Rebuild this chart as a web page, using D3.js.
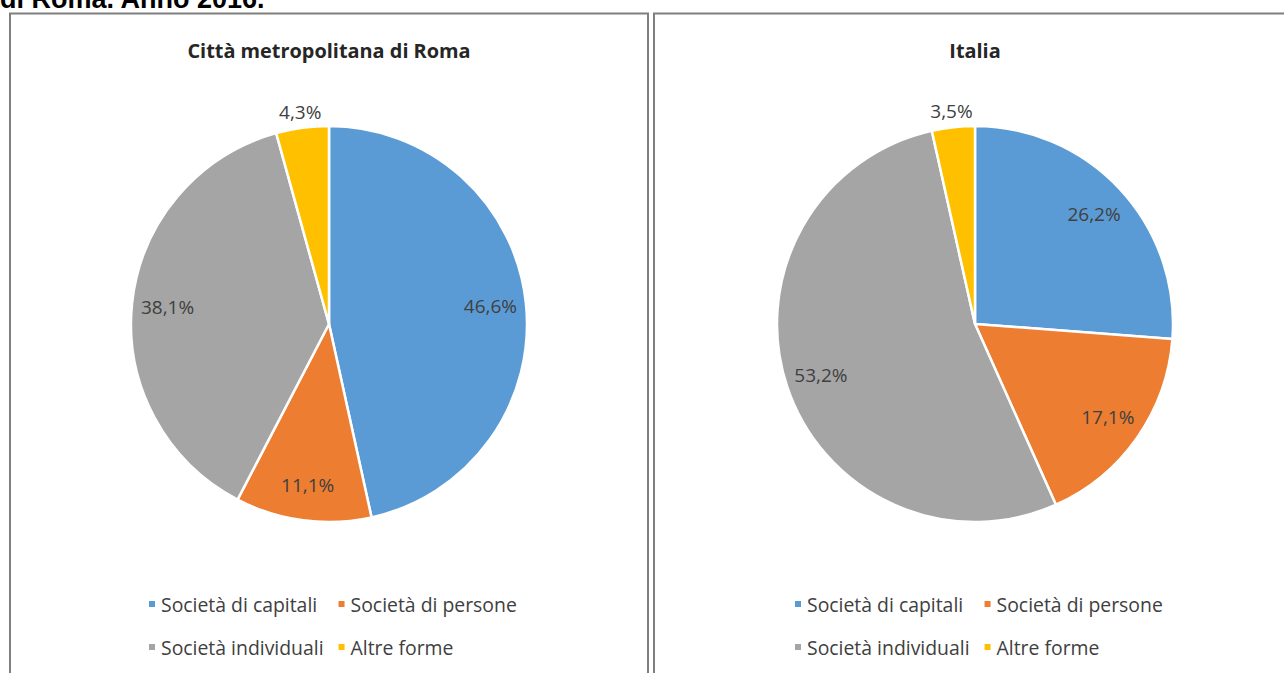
<!DOCTYPE html>
<html><head><meta charset="utf-8">
<script src="https://cdn.jsdelivr.net/npm/d3@7"></script>
<style>
html,body{margin:0;padding:0;background:#fff;overflow:hidden;}
svg{display:block;}
</style></head>
<body>
<svg id="chart" width="1284" height="673"></svg>
<script>
const categories = ["Società di capitali", "Società di persone", "Società individuali", "Altre forme"];
const colors = ["#5B9BD5", "#ED7D31", "#A5A5A5", "#FFC000"];
const panelTitles = ["Città metropolitana di Roma", "Italia"];
const romaValues = [46.6, 11.1, 38.1, 4.3];
const italiaValues = [26.2, 17.1, 53.2, 3.5];
const headerText = "di Roma. Anno 2016.";

const svg = d3.select("#chart");
const FONT = "'Open Sans', 'Noto Sans', sans-serif";

svg.append("text").attr("x", 0).attr("y", 8)
  .attr("font-family", "'Liberation Sans', Arial, sans-serif")
  .attr("font-weight", "bold").attr("font-size", 27).attr("fill", "#000")
  .text(headerText);

const panels = [
  {x0: 10, x1: 648, cx: 329, cy: 324, r: 198, title: panelTitles[0], values: romaValues},
  {x0: 654, x1: 1300, cx: 975, cy: 324, r: 198, title: panelTitles[1], values: italiaValues}
];
const fmt = v => d3.format(".1f")(v).replace(".", ",") + "%";

panels.forEach(p => {
  const g = svg.append("g");
  g.append("path")
    .attr("d", `M${p.x0},700 V13.5 H${p.x1} V700`)
    .attr("fill", "none").attr("stroke", "#7f7f7f").attr("stroke-width", 2);

  g.append("text").attr("x", p.cx).attr("y", 58).attr("text-anchor", "middle")
    .attr("font-family", FONT).attr("font-weight", "bold").attr("font-size", 19.9)
    .attr("fill", "#262626").text(p.title);

  const pie = d3.pie().sort(null).value(d => d)(p.values);
  const arc = d3.arc().innerRadius(0).outerRadius(p.r);
  const pg = g.append("g").attr("transform", `translate(${p.cx},${p.cy})`);
  pg.selectAll("path.slice").data(pie).join("path").attr("class", "slice")
    .attr("d", arc).attr("fill", (d, i) => colors[i])
    .attr("stroke", "#fff").attr("stroke-width", 2.5).attr("stroke-linejoin", "round");

  pie.forEach((d, i) => {
    const mid = (d.startAngle + d.endAngle) / 2;
    const small = d.data < 5;
    const rr = small ? p.r + 16 : p.r * 0.82;
    const x = Math.sin(mid) * rr, y = -Math.cos(mid) * rr;
    pg.append("text").attr("x", x).attr("y", y)
      .attr("text-anchor", "middle").attr("dominant-baseline", "central")
      .attr("font-family", FONT).attr("font-size", 19).attr("fill", "#404040")
      .text(fmt(d.data));
  });

  // legend: 2 rows x 2 columns, columns aligned
  const rows = [[0, 1], [2, 3]];
  const rowY = [604, 647];
  const startX = p.cx - 180;
  const items = [];
  rows.forEach((row, ri) => row.forEach((ci, col) => {
    const t = g.append("text").attr("y", rowY[ri])
      .attr("dominant-baseline", "central")
      .attr("font-family", FONT).attr("font-size", 19.4).attr("fill", "#404040")
      .text(categories[ci]);
    items.push({t, ci, col, y: rowY[ri]});
  }));
  const col0W = d3.max(items.filter(d => d.col === 0), d => d.t.node().getComputedTextLength());
  const colX = [startX, startX + 12 + col0W + 15];
  items.forEach(d => {
    const x = colX[d.col];
    g.append("rect").attr("x", x).attr("y", d.y - 3).attr("width", 6).attr("height", 6)
      .attr("fill", colors[d.ci]);
    d.t.attr("x", x + 12);
  });
});
</script>
</body></html>
